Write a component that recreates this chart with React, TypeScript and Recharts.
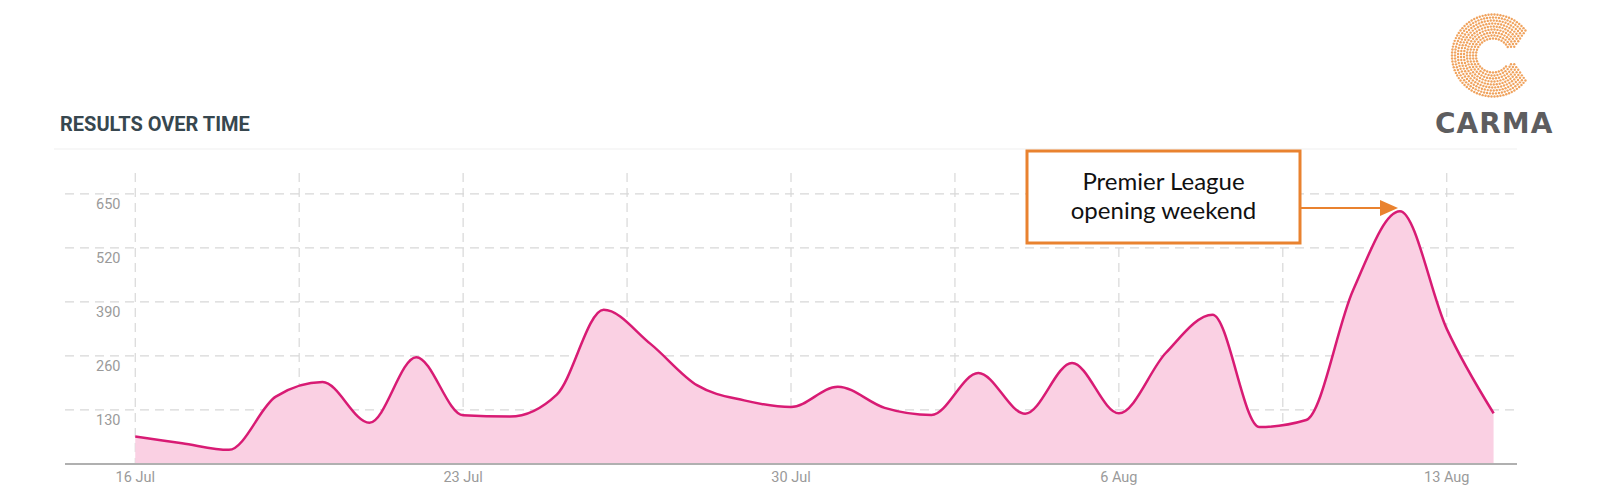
import React from "react";
import { AreaChart, Area, XAxis, YAxis, CartesianGrid } from "recharts";

// ---- data ----
const dates = [
  "16 Jul", "17 Jul", "18 Jul", "19 Jul", "20 Jul", "21 Jul", "22 Jul",
  "23 Jul", "24 Jul", "25 Jul", "26 Jul", "27 Jul", "28 Jul", "29 Jul",
  "30 Jul", "31 Jul", "1 Aug", "2 Aug", "3 Aug", "4 Aug", "5 Aug",
  "6 Aug", "7 Aug", "8 Aug", "9 Aug", "10 Aug", "11 Aug", "12 Aug",
  "13 Aug", "14 Aug",
];
const results = [
  66, 50, 34, 162, 197, 99, 257,
  117, 114, 167, 371, 289, 189, 153,
  137, 186, 135, 118, 219, 121, 243,
  122, 267, 359, 89, 106, 418, 608,
  325, 122,
];
const yTicks = [130, 260, 390, 520, 650];
const xGridDays = [0, 3.5, 7, 10.5, 14, 17.5, 21, 24.5, 28];
const xLabelDays = [0, 7, 14, 21, 28];
const xDomain = [-1.5, 29.5];
const yDomain = [0, 700];

const chartData = results.map((v, i) => ({ day: i, date: dates[i], value: v }));

// ---- layout ----
const W = 1600;
const H = 496;
const PLOT_LEFT = 65;
const PLOT_RIGHT = 1517;
const PLOT_TOP = 173;
const PLOT_BOTTOM = 464;
const Y_AXIS_W = 50;
const X_AXIS_H = 30;

const GREY = "#9a9a9a";

const YTick = (props: any) => {
  const { y, payload } = props;
  return (
    <text x={PLOT_LEFT + 55.5} y={y + 15.5} textAnchor="end" fill={GREY}
      fontSize={14.5} fontFamily="Roboto, sans-serif">
      {payload.value}
    </text>
  );
};

const XTick = (props: any) => {
  const { x, y, payload } = props;
  const d = payload.value;
  if (!xLabelDays.includes(d)) return null;
  return (
    <text x={x} y={y + 18} textAnchor="middle" fill={GREY}
      fontSize={14.5} fontFamily="Roboto, sans-serif">
      {dates[d]}
    </text>
  );
};

function Logo() {
  const cx = 1493;
  const cy = 55.5;
  const dots: React.ReactNode[] = [];
  let k = 0;
  const step = 3.0;
  for (let r = 17; r <= 41.5; r += step) {
    const n = Math.round((2 * Math.PI * r) / step);
    for (let i = 0; i < n; i++) {
      const a = (i / n) * 2 * Math.PI;
      const dx = r * Math.cos(a);
      const dy = r * Math.sin(a);
      const ady = Math.abs(dy);
      if (dx > 0 && ady < 8.5) continue;
      if (dx > 0 && (dx - 24) * 17 - (ady - 8.5) * 11 > 0) continue;
      dots.push(<circle key={k++} cx={cx + dx} cy={cy + dy} r={1.2} fill="#F0A35E" />);
    }
  }
  return (
    <g>
      {dots}
      <text x={1435} y={133} fill="#5d5d5f" fontSize={28} fontWeight={700}
        letterSpacing={1} fontFamily="'DejaVu Sans', sans-serif">CARMA</text>
    </g>
  );
}

export default function App() {
  return (
    <div style={{ position: "absolute", left: 0, top: 0, width: W, height: H, background: "#fff" }}>
      <AreaChart
        width={W}
        height={H}
        data={chartData}
        margin={{ top: PLOT_TOP, left: PLOT_LEFT - Y_AXIS_W, right: W - PLOT_RIGHT, bottom: H - PLOT_BOTTOM - X_AXIS_H }}
      >
        <CartesianGrid stroke="#d8d8d8" strokeDasharray="9 6" strokeWidth={1.2} syncWithTicks />
        <XAxis
          dataKey="day"
          type="number"
          domain={xDomain}
          ticks={xGridDays}
          interval={0}
          height={X_AXIS_H}
          tickLine={false}
          tickSize={0}
          tickMargin={0}
          axisLine={{ stroke: "#b0b0b0", strokeWidth: 2 }}
          tick={<XTick />}
          allowDataOverflow
        />
        <YAxis
          type="number"
          domain={yDomain}
          ticks={yTicks}
          interval={0}
          width={Y_AXIS_W}
          axisLine={false}
          tickLine={false}
          tick={<YTick />}
          allowDataOverflow
        />
        <Area
          type="monotone"
          dataKey="value"
          stroke="#D81B74"
          strokeWidth={2.5}
          fill="#FAD0E3"
          fillOpacity={1}
          isAnimationActive={false}
          dot={false}
          activeDot={false}
        />
      </AreaChart>
      <svg width={W} height={H} style={{ position: "absolute", left: 0, top: 0, pointerEvents: "none" }}>
        <text x={60} y={131} fill="#37474f" fontSize={20} fontWeight={700}
          fontFamily="Roboto, sans-serif">RESULTS OVER TIME</text>
        <line x1={54} x2={PLOT_RIGHT} y1={149} y2={149} stroke="#efefef" strokeWidth={1} />
        <Logo />
        <rect x={1027} y={151} width={273} height={92} fill="#fff" stroke="#E9822F" strokeWidth={3} />
        <text x={1163.5} y={190} textAnchor="middle" fill="#111" fontSize={24}
          fontFamily="Lato, sans-serif">Premier League</text>
        <text x={1163.5} y={219} textAnchor="middle" fill="#111" fontSize={24}
          fontFamily="Lato, sans-serif">opening weekend</text>
        <line x1={1301} x2={1382} y1={208} y2={208} stroke="#E9822F" strokeWidth={2} />
        <polygon points="1380,200 1398,208 1380,216" fill="#E9822F" />
      </svg>
    </div>
  );
}
